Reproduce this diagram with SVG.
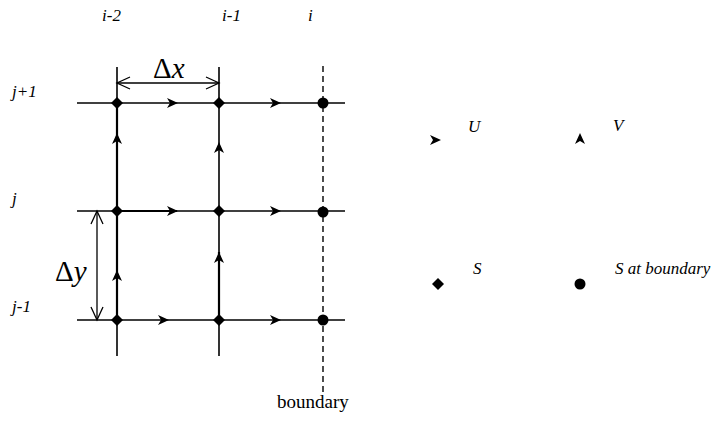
<svg xmlns="http://www.w3.org/2000/svg" width="725" height="424" viewBox="0 0 725 424">
<defs>
<style>
.ln{stroke:#000;stroke-width:1.6;fill:none}
.bd{stroke:#000;stroke-width:2.2;fill:none}
.dash{stroke:#000;stroke-width:1.4;stroke-dasharray:6,4;fill:none}
.dim{stroke:#000;stroke-width:1.3;fill:none}
</style>
<path id="ua" d="M-11,-5 L0,0 L-11,5 L-8,0 Z" fill="#000"/>
<path id="va" d="M-5,11 L0,0 L5,11 L0,8 Z" fill="#000"/>
<path id="dm" d="M0,-6 L6,0 L0,6 L-6,0 Z" fill="#000"/>
</defs>
<g id="connectors">
<line class="ln" x1="77" y1="103" x2="345" y2="103"/>
<line class="ln" x1="77" y1="211" x2="345" y2="211"/>
<line class="ln" x1="77" y1="320" x2="345" y2="320"/>
<line class="ln" x1="117" y1="67" x2="117" y2="356"/>
<line class="ln" x1="219" y1="67" x2="219" y2="356"/>
<line class="bd" x1="117" y1="103" x2="117" y2="211"/>
<line class="bd" x1="117" y1="211" x2="117" y2="320"/>
<line class="bd" x1="219" y1="252" x2="219" y2="320"/>
<line class="bd" x1="117" y1="211" x2="177" y2="211"/>
<line class="dash" x1="323" y1="66" x2="323" y2="393"/>
<use href="#ua" x="178" y="103"/>
<use href="#ua" x="281" y="103"/>
<use href="#ua" x="178" y="211"/>
<use href="#ua" x="281" y="211"/>
<use href="#ua" x="169" y="320"/>
<use href="#ua" x="281" y="320"/>
<use href="#va" x="117" y="133"/>
<use href="#va" x="219" y="142"/>
<use href="#va" x="117" y="270"/>
<use href="#va" x="219" y="252"/>
<g id="dx">
<line class="dim" x1="117" y1="83" x2="219" y2="83"/>
<path class="dim" d="M130,77 L117,83 L130,89 M206,77 L219,83 L206,89"/>
</g>
<g id="dy">
<line class="dim" x1="97" y1="211" x2="97" y2="320"/>
<path class="dim" d="M91,224 L97,211 L103,224 M91,307 L97,320 L103,307"/>
</g>
</g>
<g id="nodes">
<use href="#dm" x="117" y="103"/>
<use href="#dm" x="219" y="103"/>
<use href="#dm" x="117" y="211"/>
<use href="#dm" x="219" y="211"/>
<use href="#dm" x="117" y="320"/>
<use href="#dm" x="219" y="320"/>
<circle cx="323" cy="103" r="5.5"/>
<circle cx="323" cy="212" r="5.5"/>
<circle cx="323" cy="320" r="5.5"/>
</g>
<g id="labels" font-family="Liberation Serif, serif">
<text font-style="italic" font-size="17" x="102" y="21">i-2</text>
<text font-style="italic" font-size="17" x="222" y="21">i-1</text>
<text font-style="italic" font-size="17" x="308" y="21">i</text>
<text font-style="italic" font-size="17" x="12" y="97">j+1</text>
<text font-style="italic" font-size="17" x="12" y="204">j</text>
<text font-style="italic" font-size="17" x="12" y="312">j-1</text>
<text font-size="29" x="153" y="78">&#916;<tspan font-style="italic">x</tspan></text>
<text font-size="29" x="55" y="281">&#916;<tspan font-style="italic">y</tspan></text>
<text font-size="19" x="277" y="408">boundary</text>
</g>
<g id="legend" font-family="Liberation Serif, serif">
<use href="#ua" x="441" y="140"/>
<text font-style="italic" font-size="17" x="468" y="132">U</text>
<use href="#va" x="580" y="133"/>
<text font-style="italic" font-size="17" x="613" y="131">V</text>
<use href="#dm" x="438" y="284"/>
<text font-style="italic" font-size="17" x="473" y="274">S</text>
<circle cx="580" cy="284" r="5.5"/>
<text font-style="italic" font-size="17" x="615" y="274">S at boundary</text>
</g>
</svg>
